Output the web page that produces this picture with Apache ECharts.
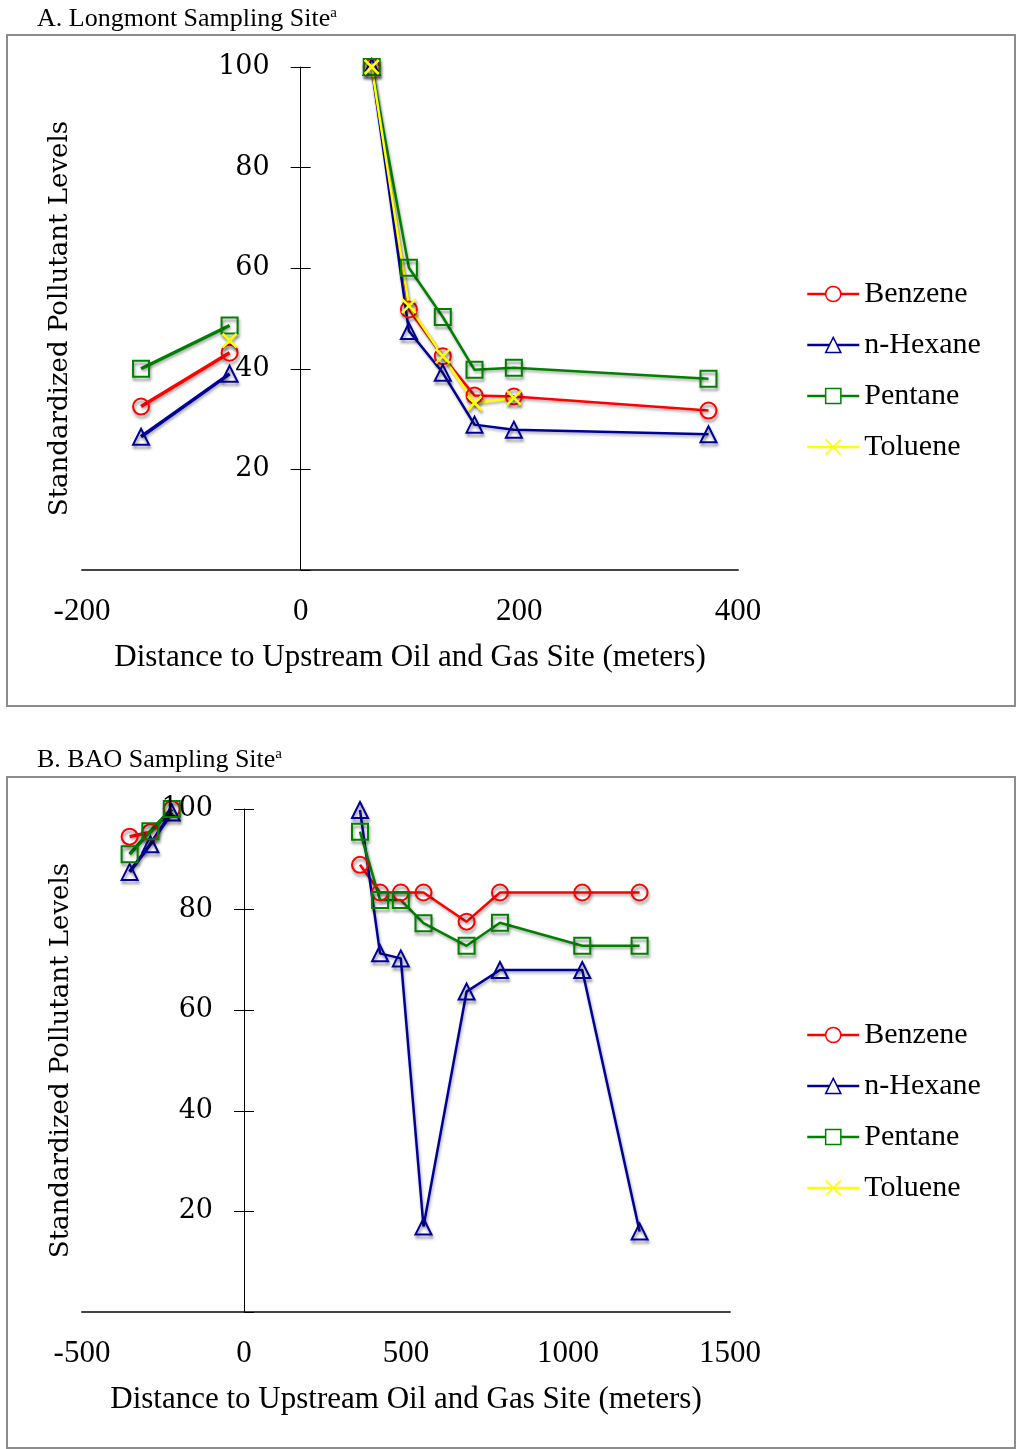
<!DOCTYPE html>
<html>
<head>
<meta charset="utf-8">
<title>Standardized Pollutant Levels vs Distance</title>
<script src="https://cdn.jsdelivr.net/npm/echarts@6/dist/echarts.min.js"></script>
<style>
  html, body { margin: 0; padding: 0; background: #fff; }
  #chart { width: 1020px; height: 1449px; }
</style>
</head>
<body>
<div id="chart"></div>
<script>
// ---- Panel A: Longmont sampling site ----
const aUpX   = [-146, -65];
const aDownX = [65, 99, 130, 159, 195, 373];
const aBenzeneUp   = [32.5, 43.2];
const aBenzeneDown = [100, 51.8, 42.5, 34.7, 34.5, 31.7];
const aHexaneUp    = [26.5, 39.0];
const aHexaneDown  = [100, 47.5, 39.2, 28.9, 27.9, 27.0];
const aPentaneUp   = [40.0, 48.6];
const aPentaneDown = [100, 60.1, 50.3, 39.8, 40.2, 38.0];
const aTolueneUp   = [null, 45.6];
const aTolueneDown = [100, 52.5, 42.5, 33.2, 34.2, null];
const aXTicks = [-200, 0, 200, 400];

// ---- Panel B: BAO sampling site ----
const bUpX   = [-353, -289, -223];
const bDownX = [358, 420, 484, 554, 687, 790, 1044, 1221];
const bBenzeneUp   = [94.5, 95.4, 100];
const bBenzeneDown = [88.9, 83.4, 83.4, 83.4, 77.6, 83.4, 83.4, 83.4];
const bHexaneUp    = [87.5, 93.0, 99.3];
const bHexaneDown  = [99.8, 71.3, 70.3, 17.0, 63.7, 68.0, 68.0, 16.0];
const bPentaneUp   = [91.0, 95.6, 100];
const bPentaneDown = [95.5, 81.9, 81.9, 77.3, 72.8, 77.4, 72.8, 72.8];
const bTolueneUp   = [];
const bTolueneDown = [];
const bXTicks = [-500, 0, 500, 1000, 1500];

const yTicks = [0, 20, 40, 60, 80, 100];
const pollutants = ['Benzene', 'n-Hexane', 'Pentane', 'Toluene'];

const xTitle = 'Distance to Upstream Oil and Gas Site (meters)';
const yTitle = 'Standardized Pollutant Levels';

const SERIF = 'Liberation Serif';
const AXIS_SERIF = 'DejaVu Serif';

const looks = {
  'Benzene':  { color: '#ff0000', symbol: 'circle' },
  'n-Hexane': { color: '#000099', symbol: 'triangle' },
  'Pentane':  { color: '#008000', symbol: 'rect' },
  'Toluene':  { color: '#ffff00', symbol: 'path://M0,0L10,10M10,0L0,10' }
};

function pairs(xs, ys) {
  const out = [];
  xs.forEach((x, i) => { if (ys[i] != null) out.push([x, ys[i]]); });
  return out;
}

function lineSeries(name, panel, xs, ys, width) {
  const lk = looks[name];
  return {
    type: 'line',
    name: name,
    xAxisIndex: panel,
    yAxisIndex: panel * 2,
    data: pairs(xs, ys),
    symbol: lk.symbol,
    symbolSize: name === 'Toluene' ? 14 : 16,
    showAllSymbol: true,
    color: lk.color,
    lineStyle: {
      color: lk.color, width: width,
      shadowBlur: 3, shadowColor: 'rgba(0,0,0,0.35)', shadowOffsetX: 1, shadowOffsetY: 2
    },
    itemStyle: {
      color: 'rgba(255,255,255,0)', borderColor: lk.color, borderWidth: name === 'Toluene' ? 2.5 : 2,
      shadowBlur: 3, shadowColor: 'rgba(0,0,0,0.45)', shadowOffsetX: 1, shadowOffsetY: 3
    },
    emphasis: { disabled: true },
    z: 3
  };
}

const panelData = [
  {
    upX: aUpX, downX: aDownX,
    'Benzene': [aBenzeneUp, aBenzeneDown],
    'n-Hexane': [aHexaneUp, aHexaneDown],
    'Pentane': [aPentaneUp, aPentaneDown],
    'Toluene': [aTolueneUp, aTolueneDown]
  },
  {
    upX: bUpX, downX: bDownX,
    'Benzene': [bBenzeneUp, bBenzeneDown],
    'n-Hexane': [bHexaneUp, bHexaneDown],
    'Pentane': [bPentaneUp, bPentaneDown],
    'Toluene': [bTolueneUp, bTolueneDown]
  }
];

const series = [];
panelData.forEach((pd, p) => {
  pollutants.forEach(name => {
    series.push(lineSeries(name, p, pd.downX, pd[name][1], 2.5));
    series.push(lineSeries(name, p, pd.upX, pd[name][0], 3.5));
  });
});

const grids = [
  { left: 82, top: 67, width: 656, height: 503, outerBoundsMode: 'none', containLabel: false },
  { left: 82, top: 809, width: 648, height: 503, outerBoundsMode: 'none', containLabel: false }
];
const xTickSets = [aXTicks, bXTicks];
const yNameGaps = [227, 170];

const xAxes = xTickSets.map((ticks, p) => ({
  type: 'value',
  gridIndex: p,
  min: ticks[0],
  max: ticks[ticks.length - 1],
  interval: ticks[1] - ticks[0],
  axisLine: { onZero: false, lineStyle: { color: '#444', width: 2 } },
  axisTick: { show: false },
  splitLine: { show: false },
  axisLabel: { fontFamily: SERIF, fontSize: 31, color: '#000', margin: 26, formatter: v => String(v) },
  name: xTitle,
  nameLocation: 'middle',
  nameGap: 72,
  nameTextStyle: { fontFamily: SERIF, fontSize: 31, color: '#000' }
}));

// the vertical axis sits at distance 0: shift it right from the grid's left edge
function zeroOffset(p) {
  const t = xTickSets[p];
  const lo = t[0], hi = t[t.length - 1];
  return -((0 - lo) / (hi - lo)) * grids[p].width;
}

const yAxes = [];
[0, 1].forEach(p => {
  const base = {
    type: 'value',
    gridIndex: p,
    position: 'left',
    offset: zeroOffset(p),
    min: yTicks[0],
    max: yTicks[yTicks.length - 1],
    interval: yTicks[1] - yTicks[0],
    splitLine: { show: false },
    z: 10
  };
  yAxes.push(Object.assign({}, base, {
    axisLine: { onZero: false, lineStyle: { color: '#000', width: 1 } },
    axisTick: { length: 10, lineStyle: { color: '#000' } },
    axisLabel: { fontFamily: AXIS_SERIF, fontSize: 27, color: '#000', margin: 31,
                 padding: [5, 0, 0, 0], showMinLabel: false },
    name: yTitle,
    nameLocation: 'middle',
    nameRotate: 90,
    nameGap: yNameGaps[p],
    nameTextStyle: { fontFamily: AXIS_SERIF, fontSize: 26, color: '#000' }
  }));
  // inner half of the crossing tick marks
  yAxes.push(Object.assign({}, base, {
    axisLine: { show: false, onZero: false },
    axisTick: { inside: true, length: 10, lineStyle: { color: '#000' } },
    axisLabel: { show: false }
  }));
});

const legendBase = {
  orient: 'vertical',
  data: pollutants,
  itemWidth: 52,
  itemHeight: 19,
  itemGap: 21,
  padding: 0,
  selectedMode: false,
  textStyle: { fontFamily: SERIF, fontSize: 30, lineHeight: 30, color: '#000' },
  itemStyle: { color: '#fff', borderWidth: 1.5, shadowBlur: 0, shadowOffsetX: 0, shadowOffsetY: 0 },
  lineStyle: { width: 2.5, shadowBlur: 0, shadowOffsetX: 0, shadowOffsetY: 0 }
};

function panelTitle(label, top) {
  return {
    type: 'text',
    left: 37,
    top: top,
    style: {
      text: '{t|' + label + '}{s|a}',
      rich: {
        t: { fontFamily: SERIF, fontSize: 26, fill: '#000' },
        s: { fontFamily: SERIF, fontSize: 15, fill: '#000', verticalAlign: 'top' }
      }
    }
  };
}

const option = {
  animation: false,
  backgroundColor: '#fff',
  grid: grids,
  xAxis: xAxes,
  yAxis: yAxes,
  legend: [
    Object.assign({}, legendBase, { left: 806, top: 279 }),
    Object.assign({}, legendBase, { left: 806, top: 1020 })
  ],
  series: series,
  graphic: [
    { type: 'rect', shape: { x: 7, y: 35, width: 1008, height: 671 },
      style: { fill: 'none', stroke: '#8c8c8c', lineWidth: 2 }, silent: true },
    { type: 'rect', shape: { x: 7, y: 777, width: 1008, height: 671 },
      style: { fill: 'none', stroke: '#8c8c8c', lineWidth: 2 }, silent: true },
    panelTitle('A. Longmont Sampling Site', 6),
    panelTitle('B. BAO Sampling Site', 747)
  ]
};

const chart = echarts.init(document.getElementById('chart'), null, { renderer: 'canvas' });
chart.setOption(option);
</script>
</body>
</html>
